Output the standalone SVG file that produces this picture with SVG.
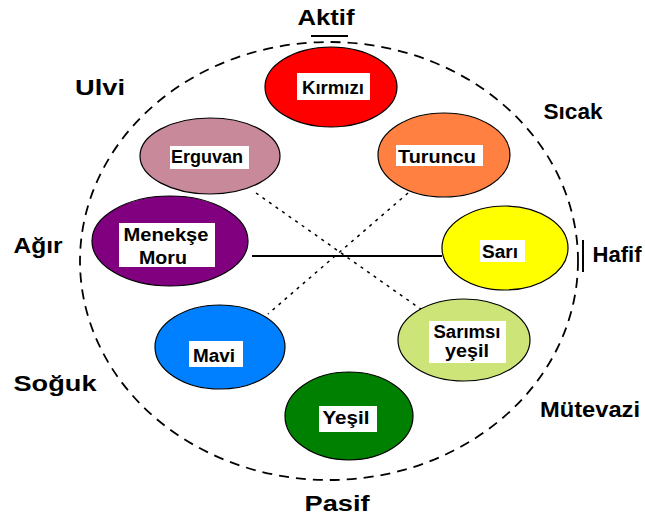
<svg xmlns="http://www.w3.org/2000/svg" width="645" height="517" viewBox="0 0 645 517">
<style>
.node{stroke:#000;stroke-width:1.2}
.box{fill:#fff}
.lbl{font-family:"Liberation Sans",Arial,sans-serif;font-weight:bold;font-size:18px;fill:#000;text-anchor:middle}
.outer{font-family:"Liberation Sans",Arial,sans-serif;font-size:22px;fill:#000;text-anchor:middle;font-weight:bold}
.dash{fill:none;stroke:#000;stroke-width:1.5;stroke-dasharray:3 5}
</style>
<rect width="645" height="517" fill="#fff"/>
<ellipse cx="329" cy="261" rx="249" ry="219" fill="none" stroke="#000" stroke-width="1.8" stroke-dasharray="10 7"/>
<line x1="311" y1="36" x2="348" y2="36" stroke="#000" stroke-width="2"/>
<line x1="583" y1="240" x2="583" y2="272" stroke="#000" stroke-width="2"/>
<g id="connectors">
<line x1="252" y1="256" x2="442" y2="256" stroke="#000" stroke-width="2"/>
<line class="dash" x1="256" y1="193" x2="422" y2="310"/>
<line class="dash" x1="408" y1="193" x2="268" y2="314"/>
</g>
<g id="kirmizi"><ellipse class="node" cx="331" cy="87" rx="66" ry="40" fill="#ff0000"/><rect class="box" x="297" y="73" width="73" height="27"/><text class="lbl" x="333" y="94" textLength="62" lengthAdjust="spacingAndGlyphs">Kırmızı</text></g>
<g id="erguvan"><ellipse class="node" cx="210" cy="156" rx="70" ry="38" fill="#c8899a"/><rect class="box" x="170" y="146" width="79" height="23"/><text class="lbl" x="207" y="163" textLength="72" lengthAdjust="spacingAndGlyphs">Erguvan</text></g>
<g id="turuncu"><ellipse class="node" cx="444" cy="155" rx="66" ry="42" fill="#ff8040"/><rect class="box" x="396" y="145" width="87" height="21"/><text class="lbl" x="437" y="163" textLength="78" lengthAdjust="spacingAndGlyphs">Turuncu</text></g>
<g id="menekse"><ellipse class="node" cx="170" cy="241" rx="78" ry="45" fill="#800080"/><rect class="box" x="119" y="223" width="96" height="44"/><text class="lbl" x="166" y="241" textLength="85" lengthAdjust="spacingAndGlyphs">Menekşe</text><text class="lbl" x="163" y="264" textLength="48" lengthAdjust="spacingAndGlyphs">Moru</text></g>
<g id="sari"><ellipse class="node" cx="505" cy="248" rx="63" ry="42" fill="#ffff00"/><rect class="box" x="480" y="240" width="45" height="22"/><text class="lbl" x="500" y="258" textLength="36" lengthAdjust="spacingAndGlyphs">Sarı</text></g>
<g id="mavi"><ellipse class="node" cx="220" cy="347" rx="65" ry="42" fill="#0080ff"/><rect class="box" x="189" y="341" width="54" height="26"/><text class="lbl" x="214" y="362" textLength="42" lengthAdjust="spacingAndGlyphs">Mavi</text></g>
<g id="sarimsi"><ellipse class="node" cx="464" cy="340" rx="66" ry="41" fill="#cce478"/><rect class="box" x="429" y="321" width="77" height="42"/><text class="lbl" x="467" y="338" textLength="67" lengthAdjust="spacingAndGlyphs">Sarımsı</text><text class="lbl" x="467" y="357" textLength="44" lengthAdjust="spacingAndGlyphs">yeşil</text></g>
<g id="yesil"><ellipse class="node" cx="349" cy="416" rx="64" ry="44" fill="#008000"/><rect class="box" x="319" y="406" width="58" height="26"/><text class="lbl" x="346" y="424" textLength="47" lengthAdjust="spacingAndGlyphs">Yeşil</text></g>
<g id="labels">
<text class="outer" x="326" y="25" textLength="57" lengthAdjust="spacingAndGlyphs">Aktif</text>
<text class="outer" x="100" y="95" textLength="50" lengthAdjust="spacingAndGlyphs">Ulvi</text>
<text class="outer" x="573" y="119" textLength="59" lengthAdjust="spacingAndGlyphs">Sıcak</text>
<text class="outer" x="38" y="253" textLength="49" lengthAdjust="spacingAndGlyphs">Ağır</text>
<text class="outer" x="617" y="262" textLength="49" lengthAdjust="spacingAndGlyphs">Hafif</text>
<text class="outer" x="55" y="391" textLength="83" lengthAdjust="spacingAndGlyphs">Soğuk</text>
<text class="outer" x="590" y="417" textLength="100" lengthAdjust="spacingAndGlyphs">Mütevazi</text>
<text class="outer" x="337" y="511" textLength="65" lengthAdjust="spacingAndGlyphs">Pasif</text>
</g>
</svg>
